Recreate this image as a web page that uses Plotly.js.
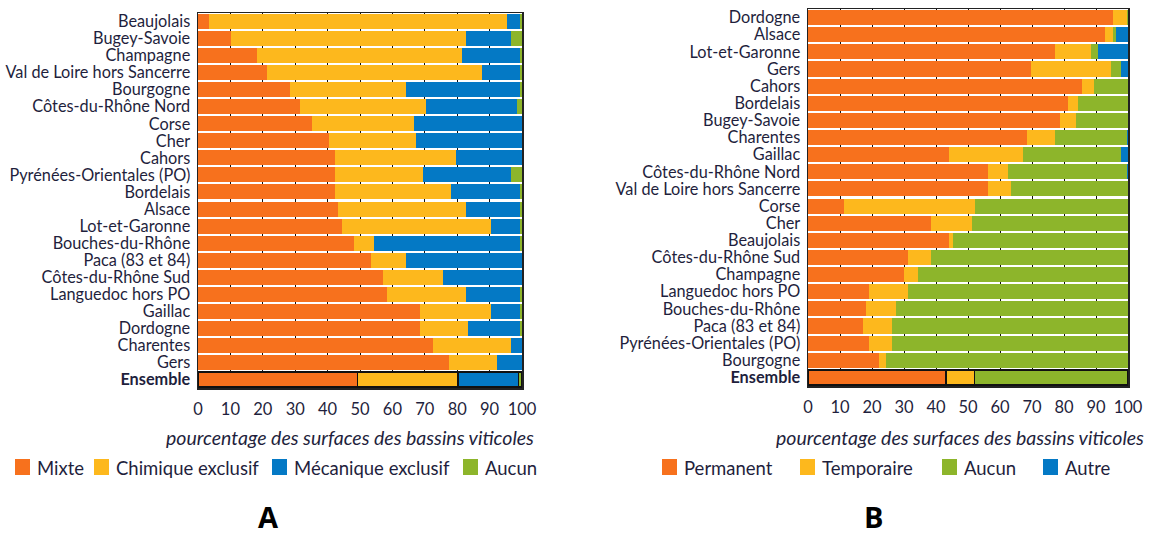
<!DOCTYPE html>
<html>
<head>
<meta charset="utf-8">
<script src="https://cdn.plot.ly/plotly-3.0.1.min.js"></script>
<style>html,body{margin:0;padding:0;background:#fff;}#chart{width:1150px;height:538px;}</style>
</head>
<body>
<div id="chart"></div>
<script>
// ---- Panel A data ----
const regionsA = ["Beaujolais","Bugey-Savoie","Champagne","Val de Loire hors Sancerre","Bourgogne","Côtes-du-Rhône Nord","Corse","Cher","Cahors","Pyrénées-Orientales (PO)","Bordelais","Alsace","Lot-et-Garonne","Bouches-du-Rhône","Paca (83 et 84)","Côtes-du-Rhône Sud","Languedoc hors PO","Gaillac","Dordogne","Charentes","Gers","Ensemble"];
const mixte     = [3.3,10.2,18.2,21.4,28.3,31.5,35.3,40.3,42.3,42.3,42.3,43.2,44.3,48.1,53.4,57.2,58.3,68.4,68.4,72.4,77.4,49.2];
const chimique  = [92.0,72.4,63.2,66.2,35.8,39.0,31.3,27.1,37.2,27.0,35.9,39.4,46.0,6.3,10.7,18.3,24.3,21.9,14.9,24.2,14.8,31.1];
const mecanique = [4.0,14.0,17.9,11.7,35.2,27.9,33.4,32.6,20.5,27.3,21.1,16.7,9.0,44.9,35.9,24.5,16.7,9.0,16.0,3.4,7.8,18.7];
const aucunA    = [0.7,3.4,0.7,0.7,0.7,1.6,0,0,0,3.4,0.7,0.7,0.7,0.7,0,0,0.7,0.7,0.7,0,0,1.0];
const seriesA = ["Mixte","Chimique exclusif","Mécanique exclusif","Aucun"];

// ---- Panel B data ----
const regionsB = ["Dordogne","Alsace","Lot-et-Garonne","Gers","Cahors","Bordelais","Bugey-Savoie","Charentes","Gaillac","Côtes-du-Rhône Nord","Val de Loire hors Sancerre","Corse","Cher","Beaujolais","Côtes-du-Rhône Sud","Champagne","Languedoc hors PO","Bouches-du-Rhône","Paca (83 et 84)","Pyrénées-Orientales (PO)","Bourgogne","Ensemble"];
const permanent  = [95.4,92.7,77.3,69.6,85.7,81.2,78.6,68.4,44.1,56.3,56.3,11.1,38.3,44.2,31.3,30.1,19.1,18.0,17.3,19.1,22.3,43.1];
const temporaire = [4.3,2.7,11.0,25.0,3.7,3.2,5.0,8.9,23.0,6.2,7.0,41.2,12.9,1.2,7.0,4.2,12.1,9.4,8.9,7.1,2.0,9.0];
const aucunB     = [0.3,1.0,2.3,3.1,10.6,15.6,16.4,22.4,30.6,37.2,36.7,47.7,48.8,54.6,61.7,65.7,68.8,72.6,73.8,73.8,75.7,47.9];
const autre      = [0,3.6,9.4,2.3,0,0,0,0.3,2.3,0.3,0,0,0,0,0,0,0,0,0,0,0,0];
const seriesB = ["Permanent","Temporaire","Aucun","Autre"];

const xTicks = [0,10,20,30,40,50,60,70,80,90,100];
const axisTitle = "pourcentage des surfaces des bassins viticoles";
const panelLabels = ["A","B"];

// ---- styles ----
const W = 1150, H = 538;
const px = v => v / W, py = v => 1 - v / H;
const C = {orange:"#F7711D", yellow:"#FDB81D", blue:"#0479C5", green:"#8DB52B"};
const txt = "#1f1f3d";
const FONT = "Lato, 'Open Sans', sans-serif";

function lineW(cats){ return cats.map(c => c === "Ensemble" ? 1.4 : 0); }
function tickText(cats){ return cats.map(c => c === "Ensemble" ? "<b>"+c+"</b>" : c); }

const traces = [];
const valsA = [mixte, chimique, mecanique, aucunA];
const colA = [C.orange, C.yellow, C.blue, C.green];
valsA.forEach((v,i) => traces.push({
  type:"bar", orientation:"h", x:v, y:regionsA, name:seriesA[i],
  xaxis:"x", yaxis:"y", showlegend:false,
  marker:{color:colA[i], line:{color:"#111", width:lineW(regionsA)}}
}));
const valsB = [permanent, temporaire, aucunB, autre];
const colB = [C.orange, C.yellow, C.green, C.blue];
valsB.forEach((v,i) => traces.push({
  type:"bar", orientation:"h", x:v, y:regionsB, name:seriesB[i],
  xaxis:"x2", yaxis:"y2", showlegend:false,
  marker:{color:colB[i], line:{color:"#111", width:lineW(regionsB)}}
}));

const xa = (dom) => ({
  domain:dom, range:[0,100], tickvals:xTicks, ticks:"", showgrid:true,
  gridcolor:"#111", gridwidth:1, zeroline:false, showline:true, mirror:true,
  linecolor:"#222", linewidth:1.5, ticklabelstandoff:6,
  tickfont:{family:FONT, size:16.5, color:txt}, fixedrange:true
});
const ya = (dom, cats, anchor) => ({
  domain:dom, type:"category", categoryorder:"array", categoryarray:cats,
  autorange:"reversed", tickvals:cats, ticktext:tickText(cats), ticks:"",
  showgrid:false, showline:true, mirror:true, linecolor:"#222", linewidth:1.5,
  ticklabelstandoff:3, tickfont:{family:FONT, size:16.3, color:txt}, anchor:anchor, fixedrange:true
});

// manual legends (positions in px)
const legA = {names:seriesA, colors:colA, sq:[15,94,272,463]};
const legB = {names:seriesB, colors:colB, sq:[662,800,942,1043]};
const shapes = [], annotations = [];
[legA, legB].forEach(L => {
  L.names.forEach((n,i) => {
    const x0 = L.sq[i];
    shapes.push({type:"rect", xref:"paper", yref:"paper", x0:px(x0), x1:px(x0+15), y0:py(475), y1:py(459),
      fillcolor:L.colors[i], line:{width:0}});
    annotations.push({xref:"paper", yref:"paper", x:px(x0+20), y:py(467.5), text:n, showarrow:false,
      xanchor:"left", yanchor:"middle", font:{family:FONT, size:18.5, color:txt}});
  });
});
annotations.push(
  {xref:"paper", yref:"paper", x:px(350), y:py(437), text:"<i>"+axisTitle+"</i>", showarrow:false,
   font:{family:FONT, size:19.5, color:txt}, xanchor:"center", yanchor:"middle"},
  {xref:"paper", yref:"paper", x:px(960), y:py(437), text:"<i>"+axisTitle+"</i>", showarrow:false,
   font:{family:FONT, size:19.5, color:txt}, xanchor:"center", yanchor:"middle"},
  {xref:"paper", yref:"paper", x:px(268), y:py(516), text:"<b>"+panelLabels[0]+"</b>", showarrow:false,
   font:{family:"'Open Sans', sans-serif", size:29, color:"#000"}, xanchor:"center", yanchor:"middle"},
  {xref:"paper", yref:"paper", x:px(873), y:py(516), text:"<b>"+panelLabels[1]+"</b>", showarrow:false,
   font:{family:"'Open Sans', sans-serif", size:29, color:"#000"}, xanchor:"center", yanchor:"middle"}
);

const layout = {
  width:W, height:H, margin:{l:0,r:0,t:0,b:0},
  paper_bgcolor:"#fff", plot_bgcolor:"#fff",
  barmode:"stack", bargap:0.12, showlegend:false,
  font:{family:FONT, color:txt},
  xaxis: Object.assign(xa([px(198), px(522)]), {anchor:"y"}),
  yaxis: ya([py(388), py(13)], regionsA, "x"),
  xaxis2: Object.assign(xa([px(808), px(1128)]), {anchor:"y2"}),
  yaxis2: ya([py(386), py(9)], regionsB, "x2"),
  shapes:shapes, annotations:annotations
};

Plotly.newPlot("chart", traces, layout, {displayModeBar:false, staticPlot:true});
</script>
</body>
</html>
